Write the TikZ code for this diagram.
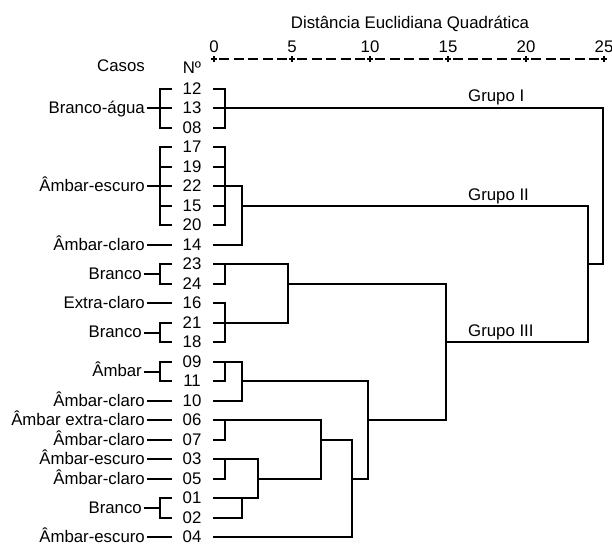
\documentclass[tikz,border=0pt]{standalone}
\usepackage{fontspec}
\setmainfont{Liberation Sans}
\usetikzlibrary{calc}
\newcommand{\dgfont}{\fontsize{16.8}{19}\selectfont}

\begin{document}
\begin{tikzpicture}[
    x=1pt, y=-1pt,
    caseno/.style={anchor=base,inner sep=0pt,font=\dgfont},
    casename/.style={anchor=base east,inner xsep=2pt,inner ysep=0pt,font=\dgfont},
    grp/.style={anchor=base west,inner sep=0pt,font=\dgfont},
    tree/.style={line width=2pt},
    axisdash/.style={line width=1.6pt,dash pattern=on 10pt off 4.5pt}
  ]
  \useasboundingbox (0,0) rectangle (612,547);
  % Scale
  \node[caseno] (title) at (410,28) {Distância Euclidiana Quadrática};
  \foreach \v [count=\i from 0] in {0,5,10,15,20,25} {
    \coordinate (ax\i) at (214+78*\i,59);
    \node[caseno] (v\i) at (214+78*\i,52) {\v};
    \draw[line width=1.1pt] ([xshift=-3pt]ax\i) -- ([xshift=3pt]ax\i)
      ([yshift=-3pt]ax\i) -- ([yshift=3pt]ax\i);
  }
  \foreach \i [count=\j from 1] in {0,...,4}
    \draw[axisdash] ([xshift=5pt]ax\i) -- ([xshift=-5pt]ax\j);
  % Headers
  \node[casename] (casos) at (147,71) {Casos};
  \node[caseno] (numero) at (192,73) {Nº};
  % Cases
  \foreach \k [count=\i from 0] in {12,13,08,17,19,22,15,20,14,23,24,16,21,18,09,11,10,06,07,03,05,01,02,04} {
    \pgfmathsetmacro\ry{round(88.5+19.5*\i)}
    \node[caseno] (n\k) at (192,\ry+5.3) {\k};
    \coordinate (l\k) at (213,\ry);
    \coordinate (t\k) at (172,\ry);
  }
  % Levels
  \coordinate (lx) at (147,0);
  \coordinate (bx) at (160,0);
  \coordinate (xa) at (225,0);
  \coordinate (xb) at (242,0);
  \coordinate (xc) at (258,0);
  \coordinate (xd) at (288,0);
  \coordinate (xe) at (321,0);
  \coordinate (xf) at (352,0);
  \coordinate (xg) at (368,0);
  \coordinate (xh) at (446,0);
  \coordinate (xj) at (588,0);
  \coordinate (xk) at (603,0);
  % Case names
  \foreach \k/\t in {14/Âmbar-claro,16/Extra-claro,10/Âmbar-claro,06/Âmbar extra-claro,
      07/Âmbar-claro,03/Âmbar-escuro,05/Âmbar-claro,04/Âmbar-escuro} {
    \node[casename] (s\k) at ($(l\k -| lx)+(0,5.3)$) {\t};
    \draw[tree] (l\k -| lx) -- (t\k);
  }
  \node[casename] (bBa) at ($(l13 -| lx)+(0,5.3)$) {Branco-água};
  \draw[tree] (t12) -| (t08 -| bx) -- (t08);
  \draw[tree] (l13 -| lx) -- (t13);
  \node[casename] (bAe) at ($(l22 -| lx)+(0,5.3)$) {Âmbar-escuro};
  \draw[tree] (t17) -| (t20 -| bx) -- (t20);
  \draw[tree] (l22 -| lx) -- (t22);
  \draw[tree] (t19) -- (t19 -| bx) (t15) -- (t15 -| bx);
  \foreach \a/\b/\t in {23/24/Branco,21/18/Branco,09/11/Âmbar,01/02/Branco} {
    \coordinate (m\a) at ($(t\a)!0.5!(t\b)$);
    \node[casename] (p\a) at ($(m\a -| lx)+(-3,5.3)$) {\t};
    \draw[tree] (p\a.base east |- m\a) -- (m\a -| bx);
    \draw[tree] (t\a) -| (t\b -| bx) -- (t\b);
  }
  % Grupo I
  \draw[tree] (l12) -| (l08 -| xa) -- (l08);
  \draw[tree] (l13) -| (l23 -| xk) -- (l23 -| xj);
  % Grupo II
  \draw[tree] (l17) -| (l20 -| xa) -- (l20);
  \draw[tree] (l19) -- (l19 -| xa) (l15) -- (l15 -| xa);
  \draw[tree] (l22) -| (l14 -| xb) -- (l14);
  \draw[tree] (l15 -| xb) -| (l18 -| xj) -- (l18 -| xh);
  % Grupo III
  \draw[tree] (l23) -| (l21 -| xd) -- (l21);
  \draw[tree] (l23 -| xa) |- (l24);
  \draw[tree] (l16) -| (l18 -| xa) -- (l18);
  \draw[tree] (l24 -| xd) -| (l06 -| xh) -- (l06 -| xg);
  \draw[tree] (l09) -| (l10 -| xb) -- (l10);
  \draw[tree] (l09 -| xa) |- (l11);
  \draw[tree] (l11 -| xb) -| (l05 -| xg) -- (l05 -| xf);
  \draw[tree] (l06) -| (l05 -| xe) -- (l05 -| xc);
  \draw[tree] (l06 -| xa) |- (l07);
  \draw[tree] (l07 -| xe) -| (l04 -| xf) -- (l04);
  \draw[tree] (l03) -| (l01 -| xc) -- (l01);
  \draw[tree] (l03 -| xa) |- (l05);
  \draw[tree] (l01 -| xb) |- (l02);
  % Group labels
  \node[grp] (gI) at (468,101) {Grupo I};
  \node[grp] (gII) at (468,200) {Grupo II};
  \node[grp] (gIII) at (468,336) {Grupo III};
\end{tikzpicture}
\end{document}
